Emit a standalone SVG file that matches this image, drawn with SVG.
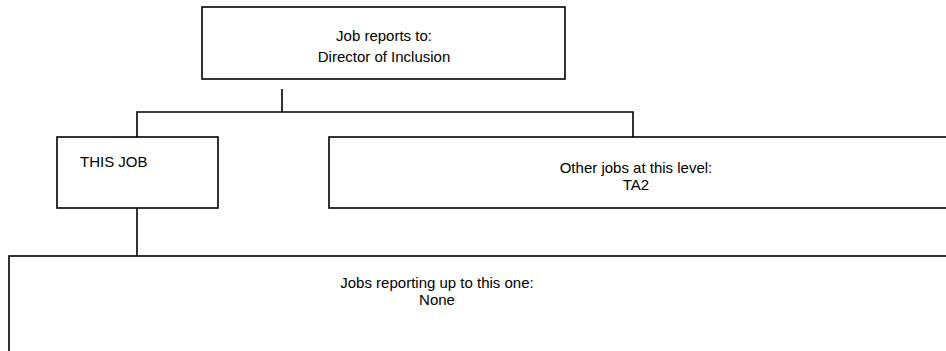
<svg xmlns="http://www.w3.org/2000/svg" width="946" height="351" viewBox="0 0 946 351">
<style>
.box{fill:#fff;stroke:#000;stroke-width:1.6}
.conn{fill:none;stroke:#000;stroke-width:1.6}
text{font-family:"Liberation Sans",Arial,sans-serif;font-size:15px;fill:#000}
.c{text-anchor:middle}
</style>
<rect width="946" height="351" fill="#fff"/>
<g id="connectors">
<line class="conn" x1="282" y1="89" x2="282" y2="112"/>
<polyline class="conn" points="137,137 137,112 633,112 633,137"/>
<line class="conn" x1="137" y1="208" x2="137" y2="256"/>
</g>
<g id="reports-to">
<rect class="box" x="202" y="7" width="363" height="72" stroke-width="2"/>
<text class="c" x="384" y="41">Job reports to:</text>
<text class="c" x="384" y="62">Director of Inclusion</text>
</g>
<g id="this-job">
<rect class="box" x="57" y="137" width="161" height="71"/>
<text x="80" y="167">THIS JOB</text>
</g>
<g id="other-jobs">
<rect class="box" x="329" y="137" width="630" height="71"/>
<text class="c" x="636" y="173">Other jobs at this level:</text>
<text class="c" x="636" y="190">TA2</text>
</g>
<g id="reporting-up">
<rect class="box" x="9" y="256" width="950" height="110"/>
<text class="c" x="437" y="288">Jobs reporting up to this one:</text>
<text class="c" x="437" y="305">None</text>
</g>
</svg>
